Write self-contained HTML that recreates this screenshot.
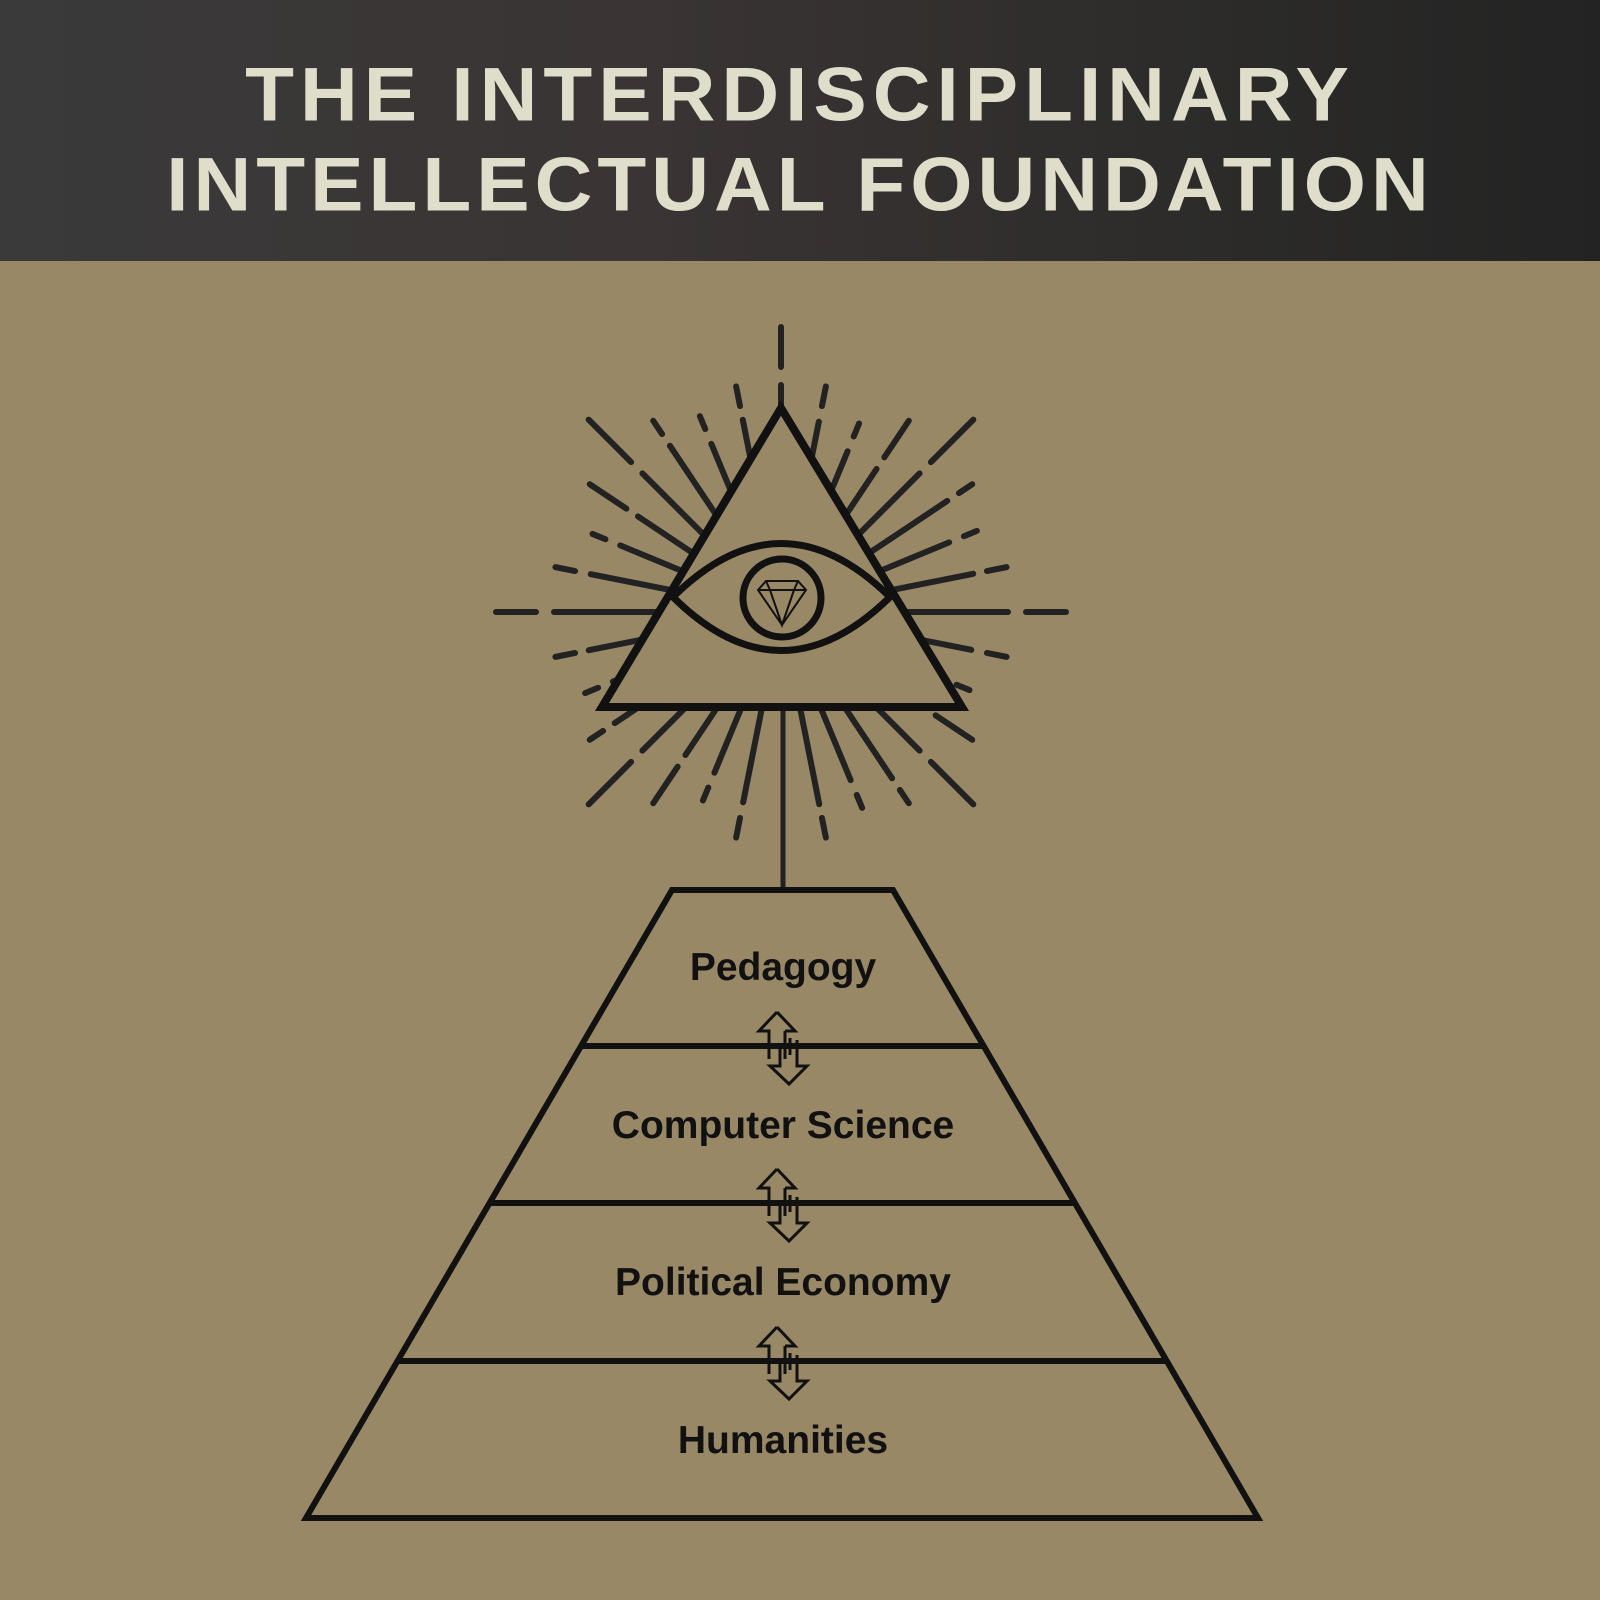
<!DOCTYPE html>
<html><head><meta charset="utf-8"><style>
html,body{margin:0;padding:0}
body{width:1600px;height:1600px;background:#988866;position:relative;overflow:hidden;font-family:"Liberation Sans",sans-serif}
.hdr{position:absolute;left:0;top:0;width:1600px;height:261px;background:linear-gradient(90deg,#3a3a3a 0%,#3a3434 40%,#2e2d2b 70%,#232323 100%)}
.t{position:absolute;left:0;width:1600px;text-align:center;color:#dfdecb;font-weight:bold;font-size:80px;letter-spacing:5px;line-height:1;transform:scaleY(0.95)}
</style></head><body>
<div class="hdr"></div>
<div class="t" style="top:55px;letter-spacing:6px">THE INTERDISCIPLINARY</div>
<div class="t" style="top:145px">INTELLECTUAL FOUNDATION</div>
<svg width="1600" height="1600" style="position:absolute;left:0;top:0" xmlns="http://www.w3.org/2000/svg">
<g transform="translate(781,612)" stroke="#222" stroke-width="6" stroke-linecap="round" fill="none">
<g id="q">
<line x1="0" y1="-285" x2="0" y2="-60" stroke-dasharray="40 18 400" transform="rotate(0)"/>
<line x1="0" y1="-230" x2="0" y2="-60" stroke-dasharray="20 16 400" transform="rotate(11.25)"/>
<line x1="0" y1="-204" x2="0" y2="-60" stroke-dasharray="14 16 400" transform="rotate(22.5)"/>
<line x1="0" y1="-230" x2="0" y2="-60" stroke-dasharray="44 14 400" transform="rotate(33.75)"/>
<line x1="0" y1="-272" x2="0" y2="-60" stroke-dasharray="60 16 400" transform="rotate(45)"/>
<line x1="0" y1="-230" x2="0" y2="-60" stroke-dasharray="16 14 400" transform="rotate(56.25)"/>
<line x1="0" y1="-212" x2="0" y2="-60" stroke-dasharray="14 16 400" transform="rotate(67.5)"/>
<line x1="0" y1="-230" x2="0" y2="-60" stroke-dasharray="20 14 400" transform="rotate(78.75)"/>
</g>
<use href="#q" transform="rotate(90)"/>
<use href="#q" transform="rotate(270)"/>
<g transform="rotate(180)">
<line x1="0" y1="-230" x2="0" y2="-60" stroke-dasharray="20 16 400" transform="rotate(11.25)"/>
<line x1="0" y1="-204" x2="0" y2="-60" stroke-dasharray="14 16 400" transform="rotate(22.5)"/>
<line x1="0" y1="-230" x2="0" y2="-60" stroke-dasharray="44 14 400" transform="rotate(33.75)"/>
<line x1="0" y1="-272" x2="0" y2="-60" stroke-dasharray="60 16 400" transform="rotate(45)"/>
<line x1="0" y1="-230" x2="0" y2="-60" stroke-dasharray="16 14 400" transform="rotate(56.25)"/>
<line x1="0" y1="-212" x2="0" y2="-60" stroke-dasharray="14 16 400" transform="rotate(67.5)"/>
<line x1="0" y1="-230" x2="0" y2="-60" stroke-dasharray="20 14 400" transform="rotate(78.75)"/>
</g>
</g>
<g stroke="#111" fill="none">
<line x1="783" y1="700" x2="783" y2="890" stroke="#222" stroke-width="5"/>
<polygon points="781,408 602,707 962,707" fill="#988866" stroke-width="8"/>
<path d="M673,597 Q781,490 890,597 Q781,704 673,597 Z" stroke-width="7"/>
<circle cx="782" cy="598" r="39" stroke-width="7"/>
<path d="M758,590 L766,581 H798 L806,590 L782,625 Z M758,590 H806 M770,590 L782,625 L794,590 M766,581 L770,590 M798,581 L794,590" stroke-width="2"/>
<polygon points="672,890 893,890 1258,1518 306,1518" stroke-width="6"/>
<line x1="581" y1="1046" x2="984" y2="1046" stroke-width="6"/>
<line x1="490" y1="1203" x2="1075" y2="1203" stroke-width="6"/>
<line x1="397" y1="1361" x2="1168" y2="1361" stroke-width="6"/>
</g>
<g id="ar" stroke="#111" stroke-width="3" fill="none" stroke-linejoin="miter">
<path d="M777,1012 L759,1031 L769,1031 L769,1059 M785,1031 L795,1031 L777,1012 M785,1031 L785,1059 M780,1046 L780,1066 L770,1066 L789,1084 L807,1066 L797,1066 L797,1040"/>
<line x1="790" y1="1038" x2="790" y2="1055"/>
</g>
<use href="#ar" transform="translate(0,157)"/>
<use href="#ar" transform="translate(0,315)"/>
<g font-family="'Liberation Sans',sans-serif" font-weight="bold" font-size="39" fill="#111" text-anchor="middle">
<text x="783" y="980">Pedagogy</text>
<text x="783" y="1138">Computer Science</text>
<text x="783" y="1295">Political Economy</text>
<text x="783" y="1453">Humanities</text>
</g>
</svg>
</body></html>
